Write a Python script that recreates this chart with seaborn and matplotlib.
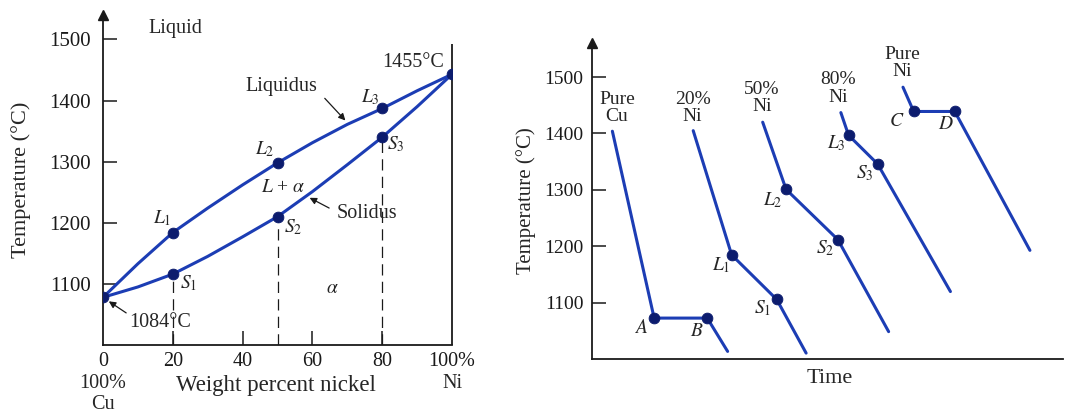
import numpy as np
import pandas as pd
import matplotlib.pyplot as plt
import seaborn as sns

sns.set_theme(style="ticks")
plt.rcParams['font.family'] = ['Liberation Serif', 'DejaVu Serif']
plt.rcParams['mathtext.fontset'] = 'stix'

BLUE = '#1c3db4'
DOT = '#0c1c6e'

# ---- phase diagram data ----
wt_ni = [0, 10, 20, 30, 40, 50, 60, 70, 80, 90, 100]
liquidus_T = [1078, 1133, 1184, 1224, 1262, 1298, 1331, 1361, 1387, 1416, 1443]
solidus_T = [1078, 1095, 1116, 1145, 1177, 1210, 1251, 1295, 1340, 1390, 1443]

pt_x = [0, 20, 20, 50, 50, 80, 80, 100]
pt_T = [1078, 1184, 1116, 1298, 1210, 1387, 1340, 1443]

# ---- cooling curves (time in arbitrary units) ----
cu_t = [6.1, 18.6, 34.5, 40.6]
cu_T = [1404, 1073, 1073, 1014]
ni20_t = [30.3, 41.8, 55.3, 64.1]
ni20_T = [1405, 1185, 1106, 1011]
ni50_t = [51.1, 58.1, 73.6, 88.8]
ni50_T = [1420, 1301, 1212, 1049]
ni80_t = [74.5, 76.8, 85.5, 107.3]
ni80_T = [1437, 1397, 1346, 1120]
ni_t = [93.1, 96.3, 108.6, 131.1]
ni_T = [1482, 1439, 1439, 1193]

yticks = [1100, 1200, 1300, 1400, 1500]

fig = plt.figure(figsize=(10.68, 4.2), dpi=100)

# ================= left: phase diagram =================
ax = fig.add_axes([103/1068, 1-345/420, 349/1068, 330/420])
df_l = pd.DataFrame({'x': wt_ni, 'T': liquidus_T})
df_s = pd.DataFrame({'x': wt_ni, 'T': solidus_T})
sns.lineplot(data=df_l, x='x', y='T', ax=ax, color=BLUE, lw=2.2, sort=False)
sns.lineplot(data=df_s, x='x', y='T', ax=ax, color=BLUE, lw=2.2, sort=False)
ax.vlines([20, 50, 80], 1000, [pt_T[2], pt_T[4], pt_T[6]], colors='k',
          linestyles=(0, (9, 5)), lw=0.9)
ax.vlines(100, 1000, 1493, colors='k', lw=1.3, clip_on=False)
sns.scatterplot(x=pt_x, y=pt_T, ax=ax, color=DOT, s=60, edgecolor=DOT, zorder=5)

ax.set_xlim(0, 100)
ax.set_ylim(1000, 1540)
for s in ['top', 'right']:
    ax.spines[s].set_visible(False)
for s in ['left', 'bottom']:
    ax.spines[s].set_linewidth(1.3)
    ax.spines[s].set_color('k')
ax.plot(0, 1, marker='^', color='k', ms=7, transform=ax.get_xaxis_transform(), clip_on=False)
ax.set_yticks(yticks)
ax.set_xticks([0, 20, 40, 60, 80, 100])
ax.set_xticklabels(['0', '20', '40', '60', '80', '100%'])
ax.tick_params(axis='both', direction='in', length=10, width=1.1, labelsize=15, colors='k')
ax.tick_params(axis='x', labelsize=14.5, pad=5)
ax.tick_params(axis='y', pad=9)
for t in ax.xaxis.get_major_ticks()[::5]:
    t.tick1line.set_visible(False)
ax.set_xlabel('')
ax.set_ylabel('Temperature (°C)', fontsize=16, labelpad=13)
ax.set_facecolor('none')

ax.text(0, 937, '100%', ha='center', va='center', fontsize=14.5, clip_on=False)
ax.text(0, 902, 'Cu', ha='center', va='center', fontsize=14.5, clip_on=False)
ax.text(100, 937, 'Ni', ha='center', va='center', fontsize=14.5, clip_on=False)
ax.text(49.6, 934, 'Weight percent nickel', ha='center', va='center', fontsize=16.5, clip_on=False)

ax.text(20.6, 1518, 'Liquid', ha='center', va='center', fontsize=14.5)
ax.text(89, 1462, '1455°C', ha='center', va='center', fontsize=14.5)
ax.text(51, 1423, 'Liquidus', ha='center', va='center', fontsize=14.5)
ax.annotate('', xy=(70, 1364), xytext=(63, 1407),
            arrowprops=dict(arrowstyle='-|>', color='k', lw=0.9, mutation_scale=10))
ax.text(75.6, 1215, 'Solidus', ha='center', va='center', fontsize=14.5)
ax.annotate('', xy=(58.5, 1243), xytext=(65.5, 1222),
            arrowprops=dict(arrowstyle='-|>', color='k', lw=0.9, mutation_scale=10))
ax.text(16.5, 1036, '1084°C', ha='center', va='center', fontsize=14.5)
ax.annotate('', xy=(1, 1074), xytext=(7.3, 1050),
            arrowprops=dict(arrowstyle='-|>', color='k', lw=0.9, mutation_scale=10))
ax.text(51.6, 1258, r'$L$ + $\alpha$', ha='center', va='center', fontsize=14)
ax.text(65.6, 1093, r'$\alpha$', ha='center', va='center', fontsize=14)
for lab, x, y in [('L_1', 16.9, 1208), ('L_2', 46.4, 1321), ('L_3', 76.5, 1405),
                  ('S_1', 24.5, 1101), ('S_2', 54.6, 1193), ('S_3', 84, 1328)]:
    ax.text(x, y, f'${lab}$', ha='center', va='center', fontsize=14)

# ================= right: cooling curves =================
ax2 = fig.add_axes([592/1068, 1-359.3/420, 471/1068, (359.3-42.6)/420])
curves = [(cu_t, cu_T), (ni20_t, ni20_T), (ni50_t, ni50_T), (ni80_t, ni80_T), (ni_t, ni_T)]
for t, T in curves:
    sns.lineplot(x=t, y=T, ax=ax2, color=BLUE, lw=2.2, sort=False)
    sns.scatterplot(x=t[1:3], y=T[1:3], ax=ax2, color=DOT, s=60, edgecolor=DOT, zorder=5)

ax2.set_xlim(0, 141)
ax2.set_ylim(1000, 1561)
for s in ['top', 'right']:
    ax2.spines[s].set_visible(False)
for s in ['left', 'bottom']:
    ax2.spines[s].set_linewidth(1.3)
    ax2.spines[s].set_color('k')
ax2.plot(0, 1, marker='^', color='k', ms=7, transform=ax2.get_xaxis_transform(), clip_on=False)
ax2.plot(1, 0, marker='>', color='k', ms=7, transform=ax2.get_yaxis_transform(), clip_on=False)
ax2.set_yticks(yticks)
ax2.set_xticks([])
ax2.tick_params(axis='y', direction='in', length=10, width=1.1, labelsize=14, colors='k', pad=6)
ax2.set_xlabel('Time', fontsize=16)
ax2.xaxis.set_label_coords(71.3/141, -0.03, transform=ax2.transAxes)
ax2.xaxis.label.set_va('top')
ax2.set_ylabel('Temperature (°C)', fontsize=15, labelpad=6)
ax2.set_facecolor('none')

for lab, x, y in [('Pure\nCu', 7.5, 1445), ('20%\nNi', 30.1, 1445), ('50%\nNi', 50.8, 1463),
                  ('80%\nNi', 73.6, 1480), ('Pure\nNi', 92.8, 1525)]:
    ax2.text(x, y, lab, ha='center', va='center', fontsize=14, linespacing=1.05)
for lab, x, y in [('A', 14.8, 1055), ('B', 31.3, 1049), ('L_1', 38.8, 1167), ('S_1', 51.1, 1090),
                  ('L_2', 54.1, 1282), ('S_2', 69.8, 1197), ('L_3', 73.1, 1383), ('S_3', 81.6, 1330),
                  ('C', 91.1, 1421), ('D', 105.8, 1416)]:
    ax2.text(x, y, f'${lab}$', ha='center', va='center', fontsize=14)

fig.savefig('out.png', dpi=100)
